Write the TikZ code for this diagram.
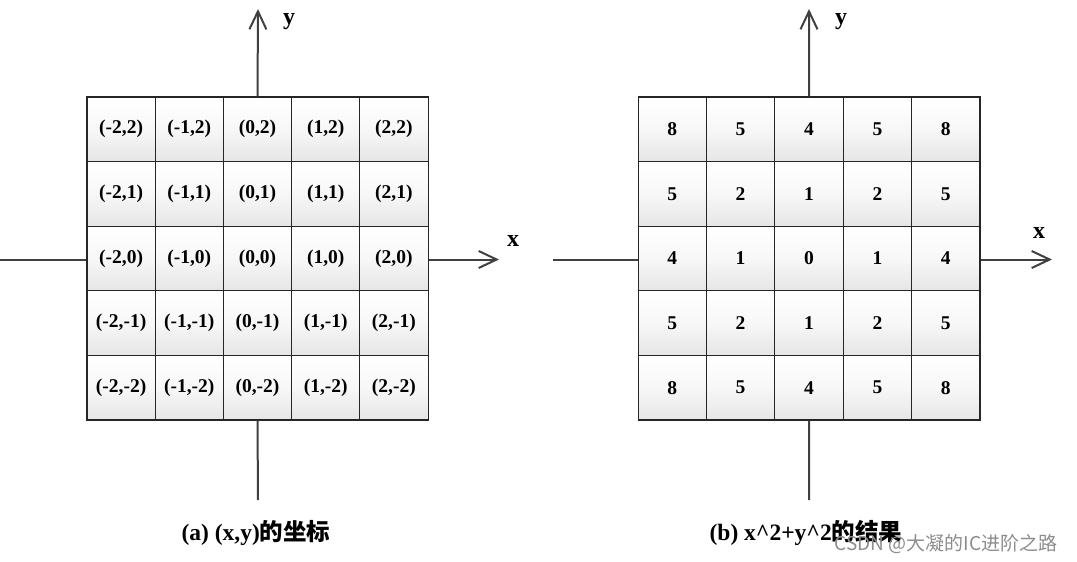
\documentclass[tikz,border=0pt]{standalone}
\usepackage{fontspec}
\setmainfont{Liberation Serif}
\newfontfamily\cjk{Noto Sans CJK SC}
\usetikzlibrary{arrows.meta}
\definecolor{axisgray}{HTML}{404040}
\tikzset{
  cell/.style={rectangle, draw=black!85, line width=1.1pt, inner sep=0pt,
    minimum width=68.3pt, minimum height=64.6pt,
    top color=white, bottom color=black!10, middle color=black!3,
    font=\fontsize{19.5}{21}\selectfont\bfseries},
  axis/.style={draw=axisgray, line width=2pt},
  axisarrow/.style={axis, -{Straight Barb[length=18pt,width=17pt,line width=2pt]}},
  axlabel/.style={font=\fontsize{24}{26}\selectfont\bfseries, inner sep=0pt},
  caption/.style={font=\fontsize{23.5}{26}\selectfont\bfseries, inner sep=0pt},
  watermark/.style={font=\cjk\fontsize{19}{22}\selectfont, text=black!45, inner sep=0pt}
}
\begin{document}
\begin{tikzpicture}[x=1pt,y=-1pt]
\useasboundingbox (0,0) rectangle (1077,562);
% left grid
\foreach \i in {0,...,4}{
  \foreach \j in {0,...,4}{
    \pgfmathtruncatemacro\xx{\i-2}
    \pgfmathtruncatemacro\yy{2-\j}
    \node[cell] (a-\i-\j) at ({87+68.2*(\i+0.5)},{97+64.6*(\j+0.5)}) {(\xx,\yy)};
  }
}
% right grid
\foreach \i in {0,...,4}{
  \foreach \j in {0,...,4}{
    \pgfmathtruncatemacro\vv{(\i-2)*(\i-2)+(2-\j)*(2-\j)}
    \node[cell] (b-\i-\j) at ({638+68.4*(\i+0.5)},{97+64.6*(\j+0.5)}) {\vv};
  }
}
% left axes
\coordinate (ayt) at (258,9);
\coordinate (ayb) at (258,500);
\coordinate (axl) at (0,259.5);
\coordinate (axr) at (499,259.5);
\draw[axisarrow] (a-2-0.north) -- (ayt);
\draw[axis] (a-2-4.south) -- (ayb);
\draw[axis] (axl) -- (a-0-2.west |- axl);
\draw[axisarrow] (a-4-2.east |- axr) -- (axr);
\node[axlabel] (aylab) at (289,22) {y};
\node[axlabel] (axlab) at (513,241) {x};
% right axes
\coordinate (byt) at (809,9);
\coordinate (byb) at (809,500);
\coordinate (bxl) at (553,259.5);
\coordinate (bxr) at (1052,259.5);
\draw[axisarrow] (b-2-0.north) -- (byt);
\draw[axis] (b-2-4.south) -- (byb);
\draw[axis] (bxl) -- (b-0-2.west |- bxl);
\draw[axisarrow] (b-4-2.east |- bxr) -- (bxr);
\node[axlabel] (bylab) at (841,22) {y};
\node[axlabel] (bxlab) at (1039,233) {x};
% captions
\node[caption] (capa) at (256,533) {(a) (x,y){\cjk 的坐标}};
\node[caption] (capb) at (806,533) {(b) x\^{}2+y\^{}2{\cjk 的结果}};
\node[watermark] (wm) at (946,544) {CSDN @大凝的IC进阶之路};
\end{tikzpicture}
\end{document}
